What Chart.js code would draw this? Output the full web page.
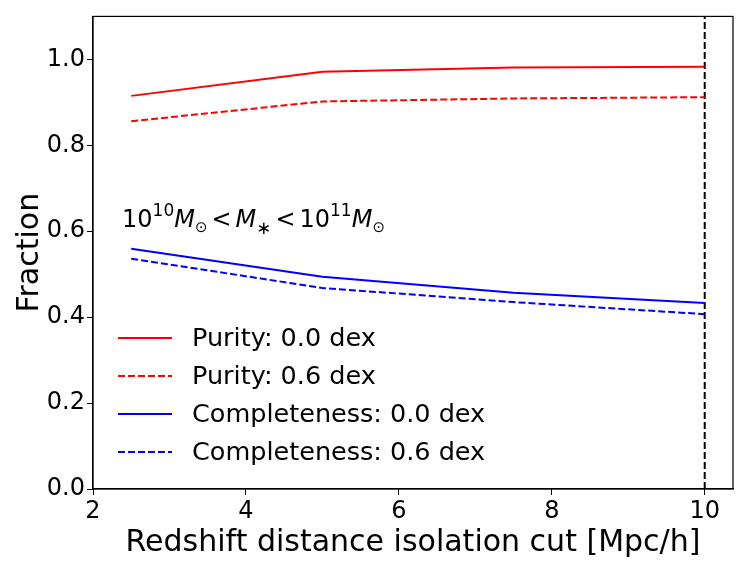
<!DOCTYPE html>
<html>
<head>
<meta charset="utf-8">
<script src="https://cdn.jsdelivr.net/npm/chart.js@4"></script>
<style>
  html, body { margin: 0; padding: 0; background: #fff; }
  #wrap { width: 748px; height: 570px; }
</style>
</head>
<body>
<div id="wrap"><canvas id="myChart"></canvas></div>
<script>
// data
var cuts = [2.5, 5, 7.5, 10];
var purity00 = [0.915, 0.971, 0.981, 0.983];
var purity06 = [0.856, 0.902, 0.909, 0.912];
var compl00 = [0.559, 0.494, 0.457, 0.433];
var compl06 = [0.536, 0.468, 0.435, 0.407];
var seriesNames = ["Purity: 0.0 dex", "Purity: 0.6 dex", "Completeness: 0.0 dex", "Completeness: 0.6 dex"];
var xTicks = [2, 4, 6, 8, 10];
var yTicks = [0, 0.2, 0.4, 0.6, 0.8, 1.0];
var cutLine = 10;

var FONT = "'DejaVu Sans', sans-serif";

function pts(ys) {
  return cuts.map(function (x, i) { return { x: x, y: ys[i] }; });
}

// frame, annotation and legend drawn inside the plot
var extras = {
  id: "extras",
  afterDraw: function (chart) {
    var ctx = chart.ctx;
    var a = chart.chartArea;
    var xs = chart.scales.x, ys = chart.scales.y;
    ctx.save();
    ctx.strokeStyle = "#000";
    ctx.lineWidth = 1.2;
    ctx.strokeRect(a.left, a.top, a.right - a.left, a.bottom - a.top);

    // mass bin label
    var x = xs.getPixelForValue(2.38);
    var y = ys.getPixelForValue(0.6) - 4;
    ctx.fillStyle = "#000";
    ctx.textBaseline = "alphabetic";
    ctx.textAlign = "left";
    function put(t, size, dy, italic) {
      ctx.font = (italic ? "italic " : "") + size + "px " + FONT;
      ctx.fillText(t, x, y + dy);
      x += ctx.measureText(t).width;
    }
    put("10", 24, 0);
    put("10", 17, -11);
    put("M", 24, 0, true);
    put("\u2299", 15, 5);
    x += 4; put("<", 24, 0); x += 4;
    put("M", 24, 0, true);
    put("\u2217", 18, 7);
    x += 4; put("<", 24, 0); x += 4;
    put("10", 24, 0);
    put("11", 17, -11);
    put("M", 24, 0, true);
    put("\u2299", 15, 5);

    // legend
    var styles = chart.data.datasets;
    ctx.font = "25.5px " + FONT;
    ctx.textBaseline = "middle";
    for (var i = 0; i < seriesNames.length; i++) {
      var ly = 338 + i * 38;
      var ds = styles[i];
      ctx.beginPath();
      ctx.strokeStyle = ds.borderColor;
      ctx.lineWidth = 2;
      ctx.setLineDash(ds.borderDash || []);
      ctx.moveTo(118, ly);
      ctx.lineTo(172, ly);
      ctx.stroke();
      ctx.setLineDash([]);
      ctx.fillStyle = "#000";
      ctx.fillText(seriesNames[i], 192, ly + 1);
    }
    ctx.restore();
  }
};

function lineSet(label, ys, color, dashed) {
  return {
    label: label,
    data: pts(ys),
    borderColor: color,
    borderWidth: 2,
    borderDash: dashed ? [7, 3] : [],
    pointRadius: 0,
    fill: false,
    tension: 0
  };
}

new Chart("myChart", {
  type: "line",
  data: {
    datasets: [
      lineSet(seriesNames[0], purity00, "#ff0000", false),
      lineSet(seriesNames[1], purity06, "#ff0000", true),
      lineSet(seriesNames[2], compl00, "#0000ff", false),
      lineSet(seriesNames[3], compl06, "#0000ff", true),
      {
        label: "cut",
        data: [{ x: cutLine, y: 0 }, { x: cutLine, y: 1.1 }],
        borderColor: "#000",
        borderWidth: 2,
        borderDash: [7, 3],
        pointRadius: 0
      }
    ]
  },
  options: {
    responsive: true,
    maintainAspectRatio: false,
    animation: false,
    devicePixelRatio: 1,
    layout: { padding: { top: 15, right: 15, left: 0, bottom: 0 } },
    plugins: {
      legend: { display: false },
      tooltip: { enabled: false }
    },
    scales: {
      x: {
        type: "linear",
        min: 2,
        max: 10.37,
        afterBuildTicks: function (s) { s.ticks = xTicks.map(function (v) { return { value: v }; }); },
        afterFit: function (s) { s.height = 81; },
        ticks: { color: "#000", font: { family: FONT, size: 24 }, padding: 2, maxRotation: 0,
          callback: function (v) { return String(v); } },
        grid: { display: true, drawOnChartArea: false, drawTicks: true, tickLength: 6, color: "#000" },
        border: { display: true, color: "#000", width: 1.2 },
        title: { display: true, text: "Redshift distance isolation cut [Mpc/h]", color: "#000",
          font: { family: FONT, size: 30 }, padding: { top: 0, bottom: 9 } }
      },
      y: {
        type: "linear",
        min: 0,
        max: 1.1,
        afterBuildTicks: function (s) { s.ticks = yTicks.map(function (v) { return { value: v }; }); },
        afterFit: function (s) { s.width = 93; },
        ticks: { color: "#000", font: { family: FONT, size: 24 }, padding: 2,
          callback: function (v) { return v.toFixed(1); } },
        grid: { display: true, drawOnChartArea: false, drawTicks: true, tickLength: 6, color: "#000" },
        border: { display: true, color: "#000", width: 1.2 },
        title: { display: true, text: "Fraction", color: "#000",
          font: { family: FONT, size: 30 }, padding: { top: 12, bottom: 0 } }
      }
    }
  },
  plugins: [extras]
});
</script>
</body>
</html>
